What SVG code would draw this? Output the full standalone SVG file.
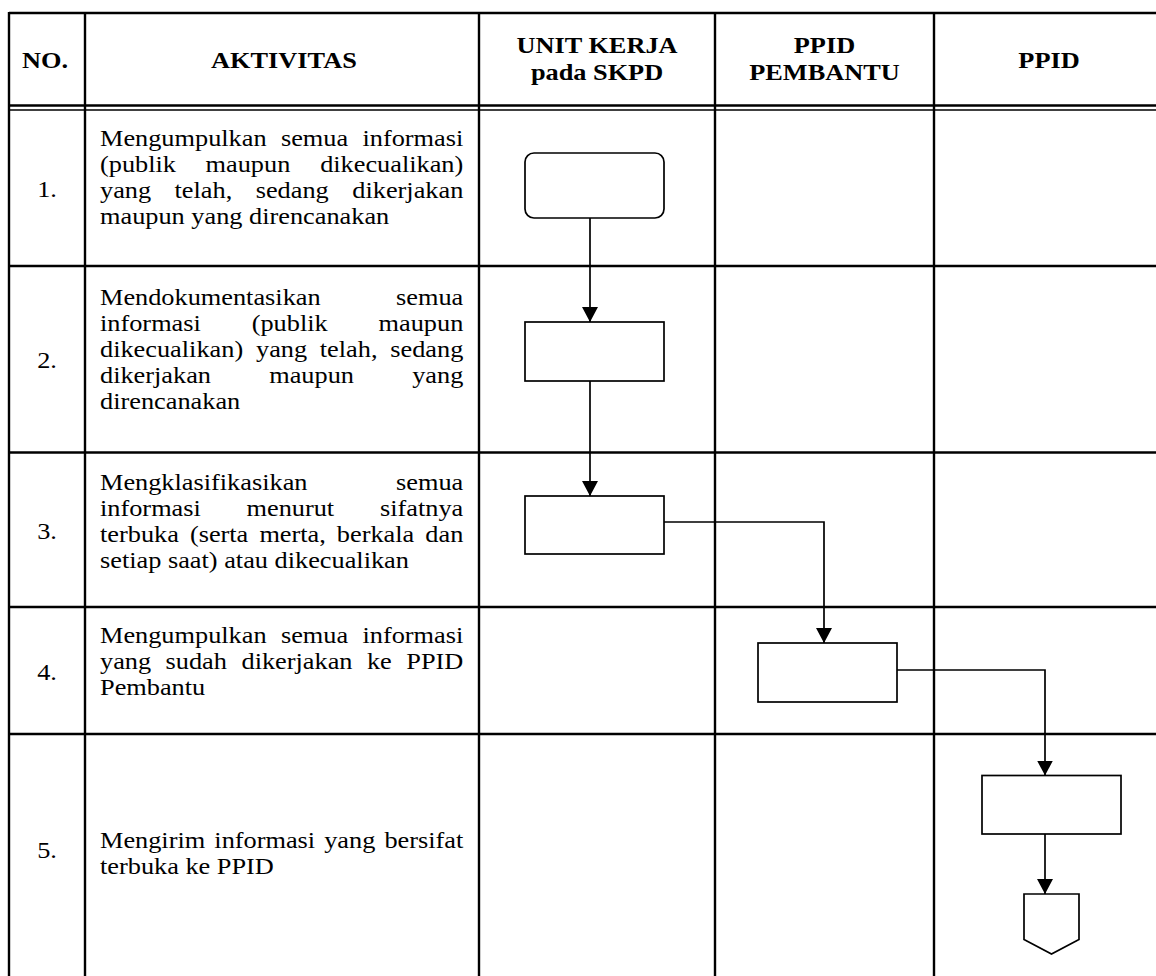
<svg xmlns="http://www.w3.org/2000/svg" width="1156" height="976" viewBox="0 0 1156 976">
<style>
  .grid { stroke: #000; stroke-width: 2.4; fill: none; }
  .thin { stroke: #000; stroke-width: 1.6; fill: none; }
  .shape { stroke: #000; stroke-width: 1.7; fill: #fff; }
  .conn { stroke: #000; stroke-width: 1.7; fill: none; }
  text { font-family: "Liberation Serif", "Times New Roman", serif; font-size: 22.5px; fill: #000; }
  .h { font-weight: bold; text-anchor: middle; }
  .num { text-anchor: middle; }
  .e { text-anchor: end; }
</style>
<defs>
  <marker id="arr" markerUnits="userSpaceOnUse" markerWidth="17" markerHeight="17" refX="15" refY="8" orient="auto">
    <path d="M0,0 L15,8 L0,16 Z" fill="#000"/>
  </marker>
</defs>
<rect x="0" y="0" width="1156" height="976" fill="#fff"/>

<g id="table">
  <line class="grid" x1="9" y1="13" x2="1156" y2="13"/>
  <line class="grid" x1="9" y1="105.5" x2="1156" y2="105.5"/>
  <line class="thin" x1="9" y1="110" x2="1156" y2="110"/>
  <line class="grid" x1="9" y1="266" x2="1156" y2="266"/>
  <line class="grid" x1="9" y1="452.5" x2="1156" y2="452.5"/>
  <line class="grid" x1="9" y1="607" x2="1156" y2="607"/>
  <line class="grid" x1="9" y1="734" x2="1156" y2="734"/>
  <line class="grid" x1="9" y1="12" x2="9" y2="976"/>
  <line class="grid" x1="85" y1="12" x2="85" y2="976"/>
  <line class="grid" x1="479" y1="12" x2="479" y2="976"/>
  <line class="grid" x1="715" y1="12" x2="715" y2="976"/>
  <line class="grid" x1="934" y1="12" x2="934" y2="976"/>
</g>

<g id="header" transform="scale(1.17,1)">
  <text class="h" x="38.5" y="68">NO.</text>
  <text class="h" x="242.7" y="68">AKTIVITAS</text>
  <text class="h" x="510.3" y="53.5">UNIT KERJA</text>
  <text class="h" x="510.3" y="80">pada SKPD</text>
  <text class="h" x="704.7" y="53.5">PPID</text>
  <text class="h" x="704.7" y="80">PEMBANTU</text>
  <text class="h" x="896.6" y="68">PPID</text>
</g>

<g id="row1" transform="scale(1.17,1)">
  <text class="num" x="40.2" y="197">1.</text>
  <text y="146"><tspan x="85.47">Mengumpulkan</tspan><tspan x="240.1">semua</tspan><tspan x="395.98" class="e">informasi</tspan></text>
  <text y="172"><tspan x="85.47">(publik</tspan><tspan x="175.7">maupun</tspan><tspan x="395.98" class="e">dikecualikan)</tspan></text>
  <text y="198"><tspan x="85.47">yang</tspan><tspan x="149.2">telah,</tspan><tspan x="218.5">sedang</tspan><tspan x="395.98" class="e">dikerjakan</tspan></text>
  <text x="85.47" y="224">maupun yang direncanakan</text>
</g>

<g id="row2" transform="scale(1.17,1)">
  <text class="num" x="40.2" y="368">2.</text>
  <text y="305.5"><tspan x="85.47">Mendokumentasikan</tspan><tspan x="395.98" class="e">semua</tspan></text>
  <text y="331.5"><tspan x="85.47">informasi</tspan><tspan x="215.1">(publik</tspan><tspan x="395.98" class="e">maupun</tspan></text>
  <text y="357.5"><tspan x="85.47">dikecualikan)</tspan><tspan x="218.8">yang</tspan><tspan x="273.3">telah,</tspan><tspan x="395.98" class="e">sedang</tspan></text>
  <text y="383.5"><tspan x="85.47">dikerjakan</tspan><tspan x="230.1">maupun</tspan><tspan x="395.98" class="e">yang</tspan></text>
  <text x="85.47" y="409.5">direncanakan</text>
</g>

<g id="row3" transform="scale(1.17,1)">
  <text class="num" x="40.2" y="539">3.</text>
  <text y="490"><tspan x="85.47">Mengklasifikasikan</tspan><tspan x="395.98" class="e">semua</tspan></text>
  <text y="516"><tspan x="85.47">informasi</tspan><tspan x="210.7">menurut</tspan><tspan x="395.98" class="e">sifatnya</tspan></text>
  <text y="542"><tspan x="85.47">terbuka</tspan><tspan x="162.3">(serta</tspan><tspan x="221.7">merta,</tspan><tspan x="287.9">berkala</tspan><tspan x="395.98" class="e">dan</tspan></text>
  <text x="85.47" y="568">setiap saat) atau dikecualikan</text>
</g>

<g id="row4" transform="scale(1.17,1)">
  <text class="num" x="40.2" y="680">4.</text>
  <text y="643"><tspan x="85.47">Mengumpulkan</tspan><tspan x="240.1">semua</tspan><tspan x="395.98" class="e">informasi</tspan></text>
  <text y="669"><tspan x="85.47">yang</tspan><tspan x="141.5">sudah</tspan><tspan x="206.4">dikerjakan</tspan><tspan x="313.6">ke</tspan><tspan x="395.98" class="e">PPID</tspan></text>
  <text x="85.47" y="695">Pembantu</text>
</g>

<g id="row5" transform="scale(1.17,1)">
  <text class="num" x="40.2" y="858">5.</text>
  <text y="848"><tspan x="85.47">Mengirim</tspan><tspan x="183.2">informasi</tspan><tspan x="277.1">yang</tspan><tspan x="395.98" class="e">bersifat</tspan></text>
  <text x="85.47" y="874">terbuka ke PPID</text>
</g>

<g id="connectors">
  <path class="conn" d="M590,218 V322" marker-end="url(#arr)"/>
  <path class="conn" d="M590,381 V496" marker-end="url(#arr)"/>
  <path class="conn" d="M664,522 H824 V643" marker-end="url(#arr)"/>
  <path class="conn" d="M897,670 H1045 V775.5" marker-end="url(#arr)"/>
  <path class="conn" d="M1045,834 V894" marker-end="url(#arr)"/>
</g>

<g id="start"><rect class="shape" x="525" y="153" width="139" height="65" rx="9" ry="9"/></g>
<g id="step2"><rect class="shape" x="525" y="322" width="139" height="59"/></g>
<g id="step3"><rect class="shape" x="525" y="496" width="139" height="58"/></g>
<g id="step4"><rect class="shape" x="758" y="643" width="139" height="59"/></g>
<g id="step5"><rect class="shape" x="982" y="775.5" width="139" height="58.5"/></g>
<g id="offpage"><polygon class="shape" points="1024,894 1079,894 1079,939.5 1051.5,954 1024,939.5"/></g>
</svg>
